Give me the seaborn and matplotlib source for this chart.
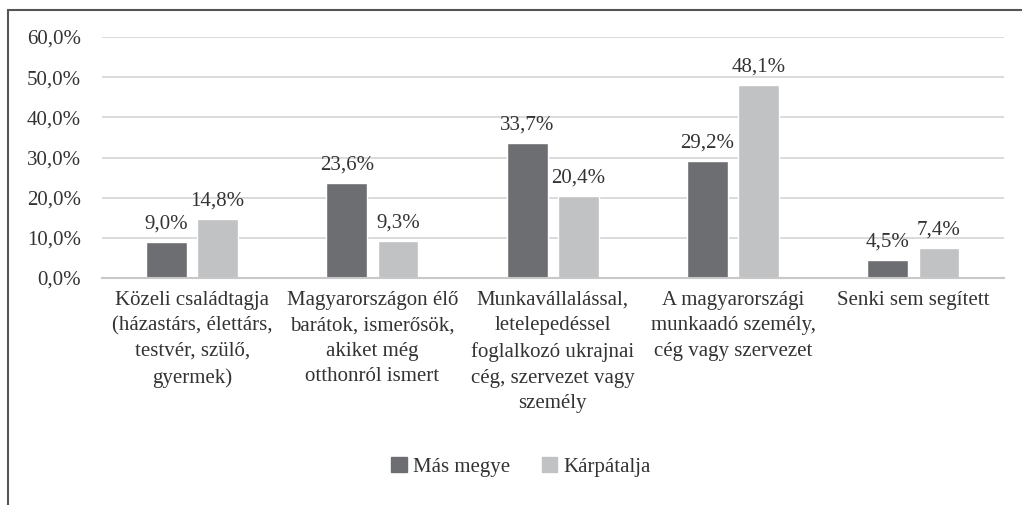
import matplotlib
matplotlib.use("Agg")
import matplotlib.pyplot as plt
import seaborn as sns
import pandas as pd
from matplotlib.lines import Line2D

categories = [
    "Közeli családtagja\n(házastárs, élettárs,\ntestvér, szülő,\ngyermek)",
    "Magyarországon élő\nbarátok, ismerősök,\nakiket még\notthonról ismert",
    "Munkavállalással,\nletelepedéssel\nfoglalkozó ukrajnai\ncég, szervezet vagy\nszemély",
    "A magyarországi\nmunkaadó személy,\ncég vagy szervezet",
    "Senki sem segített",
]
series_names = ["Más megye", "Kárpátalja"]
mas_megye = [9.0, 23.6, 33.7, 29.2, 4.5]
karpatalja = [14.8, 9.3, 20.4, 48.1, 7.4]
y_ticks = [0, 10, 20, 30, 40, 50, 60]
colors = ["#6d6e71", "#c1c2c4"]

df = pd.DataFrame({
    "cat": categories * 2,
    "series": [series_names[0]] * 5 + [series_names[1]] * 5,
    "val": mas_megye + karpatalja,
})

sns.set_style("white")
plt.rcParams["font.family"] = ["Liberation Serif", "DejaVu Serif"]

FS = 15

fig = plt.figure(figsize=(10.22, 5.05), dpi=100)
ax = fig.add_axes([0.0998, 0.4495, 0.8822, 0.4772])

sns.barplot(data=df, x="cat", y="val", hue="series", palette=colors,
            width=0.567, gap=0.2, ax=ax, legend=False, saturation=1)

ax.set_ylim(0, 60)
ax.set_xlim(-0.5, 4.5)
ax.set_yticks(y_ticks)
ax.set_yticklabels([f"{t:.1f}%".replace(".", ",") for t in y_ticks], fontsize=FS, color="#333333")
ax.set_xticks(range(5))
ax.set_xticklabels(categories, fontsize=FS, color="#333333", linespacing=1.47)
ax.tick_params(axis="both", length=0)
ax.tick_params(axis="x", pad=9)
ax.tick_params(axis="y", pad=15)
ax.set_xlabel("")
ax.set_ylabel("")
ax.yaxis.grid(True, color="#d4d4d4", linewidth=1.2)
ax.set_axisbelow(True)
for s in ["top", "right", "left"]:
    ax.spines[s].set_visible(False)
ax.spines["bottom"].set_color("#c8c8c8")
ax.spines["bottom"].set_linewidth(1.5)

for cont, vals in zip(ax.containers, [mas_megye, karpatalja]):
    ax.bar_label(cont, labels=[f"{v:.1f}%".replace(".", ",") for v in vals],
                 padding=6, fontsize=FS, color="#333333")

handles = [plt.Rectangle((0, 0), 1, 1, color=c) for c in colors]
fig.legend(handles, series_names, loc="center", bbox_to_anchor=(0.51, 0.075), ncol=2,
           frameon=False, fontsize=FS, handlelength=0.75, handleheight=0.75,
           columnspacing=1.5, handletextpad=0.3, labelcolor="#333333")

fig.add_artist(Line2D([8 / 1022, 8 / 1022], [0, 1 - 10 / 505], transform=fig.transFigure,
                      color="#555555", linewidth=1.5))
fig.add_artist(Line2D([8 / 1022, 1.0], [1 - 10 / 505, 1 - 10 / 505], transform=fig.transFigure,
                      color="#555555", linewidth=1.5))

fig.savefig("out.png", dpi=100)
